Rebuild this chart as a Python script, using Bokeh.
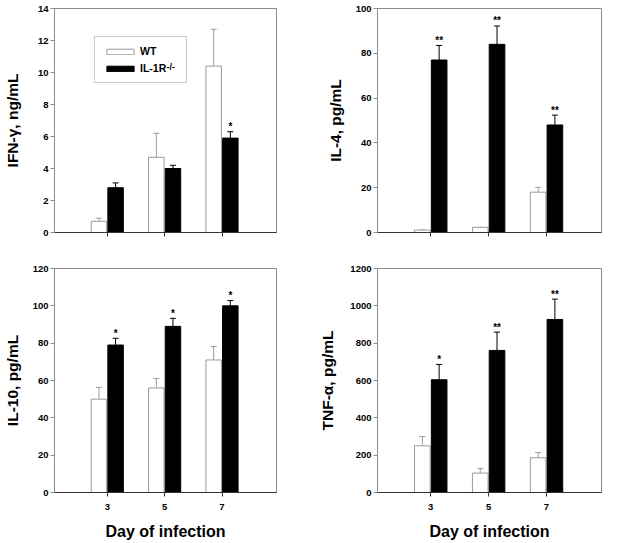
import numpy as np
from bokeh.plotting import figure
from bokeh.models import (Range1d, FixedTicker, ColumnDataSource, Whisker, TeeHead,
                          Legend, LegendItem, Label)
from bokeh.layouts import column, row
from bokeh.embed import file_html
from bokeh.resources import INLINE
from bokeh.core.properties import value

# ---------------- data ----------------
days = ["3", "5", "7"]
group_names = ["WT", "IL-1R"]
ko_superscript = "-/-"

ifn_wt = [0.7, 4.7, 10.4]
ifn_wt_err = [0.2, 1.5, 2.3]
ifn_ko = [2.8, 4.0, 5.9]
ifn_ko_err = [0.3, 0.2, 0.4]
ifn_sig = ["", "", "*"]

il4_wt = [1.1, 2.3, 18.0]
il4_wt_err = [0.0, 0.0, 2.2]
il4_ko = [77.0, 84.0, 48.0]
il4_ko_err = [6.5, 8.2, 4.4]
il4_sig = ["**", "**", "**"]

il10_wt = [50.0, 56.0, 71.0]
il10_wt_err = [6.3, 5.1, 7.2]
il10_ko = [79.0, 89.0, 100.0]
il10_ko_err = [3.6, 4.3, 2.8]
il10_sig = ["*", "*", "*"]

tnf_wt = [250.0, 104.0, 186.0]
tnf_wt_err = [50.0, 25.0, 28.0]
tnf_ko = [604.0, 761.0, 927.0]
tnf_ko_err = [82.0, 98.0, 109.0]
tnf_sig = ["*", "**", "**"]

# ---------------- styling ----------------
FONT = "Liberation Sans"
GREY = "#9a9a9a"
FRAME = "#8c8c8c"
DARK = "#333333"
pos = np.arange(1, len(days) + 1)
BAR_W = 0.27
OFF = 0.145
FRAME_W = 224
FRAME_H = 224
X0, X1 = 0.08, 3.95


def panel(wt, wt_err, ko, ko_err, sig, ymax, ystep, ylabel, ystand,
          bottom, left_col, legend=False):
    mbl = 52 if left_col else 61
    mbr = 40 if left_col else 8
    mbt = 8
    mbb = 50 if bottom else 28
    p = figure(width=mbl + FRAME_W + mbr, height=mbt + FRAME_H + mbb,
               x_range=Range1d(X0, X1), y_range=Range1d(0, ymax),
               output_backend="svg", toolbar_location=None,
               min_border_left=mbl, min_border_right=mbr,
               min_border_top=mbt, min_border_bottom=mbb)
    p.grid.visible = False
    p.outline_line_color = FRAME
    p.background_fill_color = "white"
    p.border_fill_color = "white"

    wt_src = ColumnDataSource(dict(x=pos - OFF, top=wt,
                                   upper=np.array(wt) + np.array(wt_err), lower=wt))
    ko_src = ColumnDataSource(dict(x=pos + OFF, top=ko,
                                   upper=np.array(ko) + np.array(ko_err), lower=ko,
                                   sig=sig))

    r_wt = p.vbar(x="x", top="top", bottom=0, width=BAR_W, source=wt_src,
                  fill_color="white", line_color=GREY, line_width=1)
    r_ko = p.vbar(x="x", top="top", bottom=0, width=BAR_W, source=ko_src,
                  fill_color="black", line_color="black", line_width=1)

    p.add_layout(Whisker(base="x", upper="upper", lower="lower", source=wt_src,
                         line_color=GREY, line_width=1,
                         upper_head=TeeHead(size=6, line_color=GREY, line_width=1),
                         lower_head=None, level="underlay"))
    p.add_layout(Whisker(base="x", upper="upper", lower="lower", source=ko_src,
                         line_color="black", line_width=1,
                         upper_head=TeeHead(size=6, line_color="black", line_width=1),
                         lower_head=None))

    p.text(x="x", y="upper", text="sig", source=ko_src,
           text_font=value(FONT), text_font_style="bold", text_font_size="10px",
           text_align="center", text_baseline="alphabetic", y_offset=-5,
           text_color="black")

    # axes
    xa = p.xaxis[0]
    xa.ticker = FixedTicker(ticks=[float(v) for v in pos])
    if bottom:
        xa.major_label_overrides = {float(v): d for v, d in zip(pos, days)}
        xa.axis_label = "Day of infection"
        xa.axis_label_text_font = FONT
        xa.axis_label_text_font_style = "bold"
        xa.axis_label_text_font_size = "16px"
        xa.axis_label_text_color = "black"
        xa.axis_label_standoff = 10
    else:
        xa.major_label_overrides = {float(v): "" for v in pos}
    xa.major_label_text_font = FONT
    xa.major_label_text_font_style = "bold"
    xa.major_label_text_font_size = "9.5px"
    xa.major_label_text_color = "black"
    xa.major_label_standoff = 7
    xa.major_tick_in = 0
    xa.major_tick_out = 4
    xa.minor_tick_line_color = None
    xa.axis_line_color = DARK
    xa.major_tick_line_color = DARK

    ya = p.yaxis[0]
    ya.ticker = FixedTicker(ticks=list(range(0, ymax + 1, ystep)))
    ya.axis_label = ylabel
    ya.axis_label_text_font = FONT
    ya.axis_label_text_font_style = "bold"
    ya.axis_label_text_font_size = "15.5px"
    ya.axis_label_text_color = "black"
    ya.axis_label_standoff = ystand
    ya.major_label_text_font = FONT
    ya.major_label_text_font_style = "bold"
    ya.major_label_text_font_size = "9.5px"
    ya.major_label_text_color = "black"
    ya.major_label_standoff = 2
    ya.major_tick_in = 0
    ya.major_tick_out = 4
    ya.minor_tick_line_color = None
    ya.axis_line_color = FRAME
    ya.major_tick_line_color = FRAME

    if legend:
        lg = Legend(items=[LegendItem(label=group_names[0], renderers=[r_wt]),
                           LegendItem(label=group_names[1], renderers=[r_ko])],
                    location=(40, 149), orientation="vertical",
                    glyph_width=34, glyph_height=7, label_height=7, label_width=38,
                    label_standoff=3, spacing=5, padding=8, margin=0,
                    border_line_color=GREY, border_line_width=1,
                    background_fill_color="white", background_fill_alpha=0.0,
                    label_text_font=FONT, label_text_font_style="bold",
                    label_text_font_size="10.5px", label_text_color="black")
        p.add_layout(lg)
        # superscript of the knockout label, placed just after "IL-1R"
        sx, sy = 113, 166  # px from the frame's bottom-left corner
        p.add_layout(Label(x=X0 + (X1 - X0) * sx / FRAME_W, y=ymax * sy / FRAME_H,
                           x_units="data", y_units="data",
                           text=ko_superscript, text_font=FONT, text_font_style="bold",
                           text_font_size="9px", text_color="black",
                           text_baseline="alphabetic", level="overlay"))
    return p


p1 = panel(ifn_wt, ifn_wt_err, ifn_ko, ifn_ko_err, ifn_sig, 14, 2,
           "IFN-γ, ng/mL", 14, bottom=False, left_col=True, legend=True)
p2 = panel(il4_wt, il4_wt_err, il4_ko, il4_ko_err, il4_sig, 100, 20,
           "IL-4, pg/mL", 9, bottom=False, left_col=False)
p3 = panel(il10_wt, il10_wt_err, il10_ko, il10_ko_err, il10_sig, 120, 20,
           "IL-10, pg/mL", 9, bottom=True, left_col=True)
p4 = panel(tnf_wt, tnf_wt_err, tnf_ko, tnf_ko_err, tnf_sig, 1200, 200,
           "TNF-α, pg/mL", 11, bottom=True, left_col=False)

layout = column(row(p1, p2), row(p3, p4))
open("out.html", "w").write(file_html(layout, INLINE))
